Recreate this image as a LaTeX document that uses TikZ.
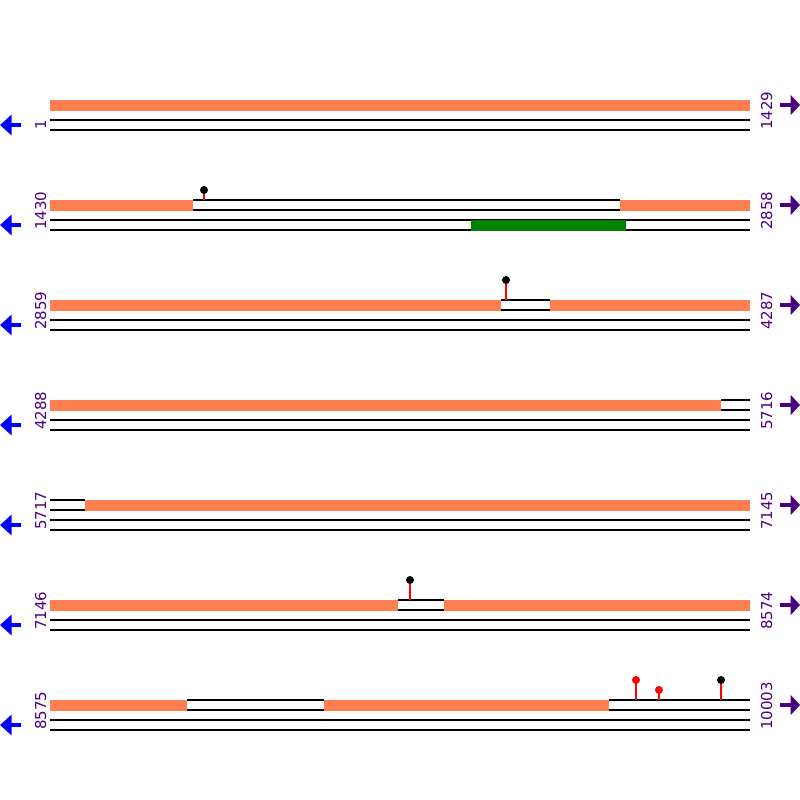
\documentclass[tikz,border=0pt]{standalone}
\usepackage{fontspec}
\setmainfont{DejaVu Sans}
\usetikzlibrary{arrows.meta}
\definecolor{segcoral}{RGB}{255,127,80}
\definecolor{segindigo}{RGB}{75,0,130}
\definecolor{seggreen}{RGB}{0,128,0}

\begin{document}
\begin{tikzpicture}[x=1pt, y=-1pt,
    strand/.style={draw=black, line width=1.2pt},
    exon/.style={fill=segcoral},
    feature/.style={fill=seggreen},
    coordlabel/.style={font=\fontsize{15}{18}\selectfont, text=segindigo, rotate=90,
                anchor=base west, inner sep=0pt},
    backarrow/.style={blue, line width=4.6pt, -{Triangle[length=11.5pt, width=20pt]}},
    fwdarrow/.style={segindigo, line width=4.6pt, -{Triangle[length=9.5pt, width=20pt]}},
    stem/.style={red, line width=1.2pt},
    knob/.style={circle, inner sep=0pt, minimum size=8pt}]

    \useasboundingbox (0,0) rectangle (800,800);

    % Strands, positions and direction of every row
    \foreach \r/\first/\last in {100/1/1429, 200/1430/2858, 300/2859/4287,
        400/4288/5716, 500/5717/7145, 600/7146/8574, 700/8575/10003} {
        \draw[strand] (50,\r+20) -- (750,\r+20) (50,\r+30) -- (750,\r+30);
        \node[coordlabel] (first\r) at (46,\r+30) {\first};
        \node[coordlabel] (last\r) at (772,\r+30) {\last};
        \draw[backarrow] (21,\r+25) -- (0,\r+25);
        \draw[fwdarrow] (780,\r+5) -- (800,\r+5);
    }

    % Row 1
    \fill[exon] (50,100) rectangle (750,110.5);

    % Row 2
    \fill[exon] (50,200) rectangle (193,210.5);
    \draw[strand] (193,200) -- (620,200) (193,210) -- (620,210);
    \fill[exon] (620,200) rectangle (750,210.5);
    \fill[feature] (471,220) rectangle (626,230.5);
    \draw[stem] (204,200) -- (204,190) node[knob, fill=black] (snpa) {};

    % Row 3
    \fill[exon] (50,300) rectangle (501,310.5);
    \draw[strand] (501,300) -- (550,300) (501,310) -- (550,310);
    \fill[exon] (550,300) rectangle (750,310.5);
    \draw[stem] (506,300) -- (506,280) node[knob, fill=black] (snpb) {};

    % Row 4
    \fill[exon] (50,400) rectangle (721,410.5);
    \draw[strand] (721,400) -- (750,400) (721,410) -- (750,410);

    % Row 5
    \draw[strand] (50,500) -- (85,500) (50,510) -- (85,510);
    \fill[exon] (85,500) rectangle (750,510.5);

    % Row 6
    \fill[exon] (50,600) rectangle (398,610.5);
    \draw[strand] (398,600) -- (444,600) (398,610) -- (444,610);
    \fill[exon] (444,600) rectangle (750,610.5);
    \draw[stem] (410,600) -- (410,580) node[knob, fill=black] (snpc) {};

    % Row 7
    \fill[exon] (50,700) rectangle (187,710.5);
    \draw[strand] (187,700) -- (324,700) (187,710) -- (324,710);
    \fill[exon] (324,700) rectangle (609,710.5);
    \draw[strand] (609,700) -- (750,700) (609,710) -- (750,710);
    \draw[stem] (636,700) -- (636,680) node[knob, fill=red] (snpd) {};
    \draw[stem] (659,700) -- (659,690) node[knob, fill=red] (snpe) {};
    \draw[stem] (721,700) -- (721,680) node[knob, fill=black] (snpf) {};

\end{tikzpicture}
\end{document}
